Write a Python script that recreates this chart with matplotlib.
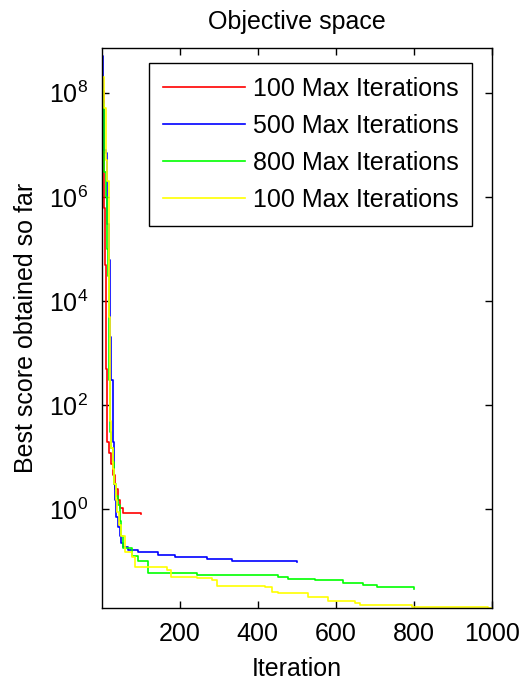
import matplotlib
matplotlib.use("Agg")
import matplotlib.pyplot as plt
from matplotlib.ticker import FixedLocator, LogFormatterSciNotation, NullLocator

plt.rcParams['font.family'] = ['Liberation Sans', 'DejaVu Sans']
plt.rcParams['mathtext.fontset'] = 'custom'
plt.rcParams['mathtext.rm'] = 'Liberation Sans'
plt.rcParams['mathtext.it'] = 'Liberation Sans'

# best-so-far score, listed at the iterations where it changes
iter_100 = [1, 5, 8, 10, 12, 14, 15, 20, 25, 30, 35, 41, 46, 54, 100]
score_100 = [1.1e8, 6e5, 5e4, 5e3, 5e2, 60, 20, 12, 7.4, 4.5, 2.5, 1.5, 1.05, 0.85, 0.8]

iter_500 = [1, 4, 7, 11, 15, 18, 21, 24, 28, 32, 34, 38, 42, 46, 50, 55, 67, 92,
            144, 187, 269, 333, 500]
score_500 = [5e8, 7e7, 8e6, 7e6, 3e5, 6e4, 2e3, 3e2, 20, 3, 1.5, 0.7, 0.45, 0.3,
             0.22, 0.19, 0.166, 0.148, 0.135, 0.123, 0.112, 0.1, 0.096]

iter_800 = [1, 2, 3, 6, 10, 13, 16, 20, 21, 24, 28, 33, 38, 42, 46, 50, 54, 77,
            92, 118, 244, 451, 477, 546, 618, 669, 705, 800]
score_800 = [7.2e8, 1.2e8, 6e7, 3e6, 1e6, 1e5, 3e4, 3e2, 30, 15, 8, 3, 1.8, 1.2,
             0.6, 0.3, 0.18, 0.129, 0.1, 0.059, 0.055, 0.049, 0.046, 0.043,
             0.038, 0.035, 0.0316, 0.030]

iter_1000 = [1, 2, 5, 10, 14, 18, 20, 22, 25, 28, 32, 36, 40, 45, 50, 59, 77, 85,
             141, 167, 179, 244, 282, 295, 418, 436, 451, 528, 579, 649, 662,
             795, 990, 1000]
score_1000 = [7.2e8, 2e8, 5e7, 5e6, 2e6, 4e5, 5e3, 50, 15, 6, 3, 1.5, 0.9, 0.5,
              0.3, 0.148, 0.12, 0.079, 0.077, 0.069, 0.051, 0.048, 0.043, 0.033,
              0.032, 0.026, 0.0246, 0.0204, 0.017, 0.0158, 0.0145, 0.0135,
              0.0127, 0.0127]

labels = ["100 Max Iterations", "500 Max Iterations",
          "800 Max Iterations", "100 Max Iterations"]
colors = ['#ff0000', '#0000ff', '#00ff00', '#ffff00']

fig = plt.figure(figsize=(5.22, 6.81), dpi=100)
ax = fig.add_axes([0.1954, 0.1072, 0.7471, 0.8223])

runs = [(iter_100, score_100), (iter_500, score_500),
        (iter_800, score_800), (iter_1000, score_1000)]
for (it, sc), lab, col in zip(runs, labels, colors):
    ax.semilogy(it, sc, color=col, lw=1.2, drawstyle='steps-post', label=lab)

# axis tight
all_scores = score_100 + score_500 + score_800 + score_1000
ax.set_xlim(1, 1000)
ax.set_ylim(min(all_scores), max(all_scores))

ax.xaxis.set_major_locator(FixedLocator([200, 400, 600, 800, 1000]))
ax.yaxis.set_major_locator(FixedLocator([1e0, 1e2, 1e4, 1e6, 1e8]))
ax.yaxis.set_major_formatter(LogFormatterSciNotation())
ax.yaxis.set_minor_locator(NullLocator())
ax.tick_params(direction='in', top=True, right=True, length=5, width=1,
               labelsize=18)
ax.tick_params(axis='y', pad=10)
ax.tick_params(axis='x', pad=10)
for s in ax.spines.values():
    s.set_linewidth(1.0)

ax.set_title("Objective space", fontsize=18, pad=14)
ax.set_xlabel("Iteration", fontsize=18, labelpad=8)
ax.set_ylabel("Best score obtained so far", fontsize=18, labelpad=8)

leg = ax.legend(loc='upper left', bbox_to_anchor=(149 / 522, 1 - 63 / 681),
                bbox_transform=fig.transFigure, fontsize=18, frameon=True,
                fancybox=False, framealpha=1, edgecolor='black',
                handlelength=3.3, handletextpad=0.3, labelspacing=0.52,
                borderpad=0.55, borderaxespad=0)
leg.get_frame().set_linewidth(1.0)

fig.savefig("out.png", dpi=100)
